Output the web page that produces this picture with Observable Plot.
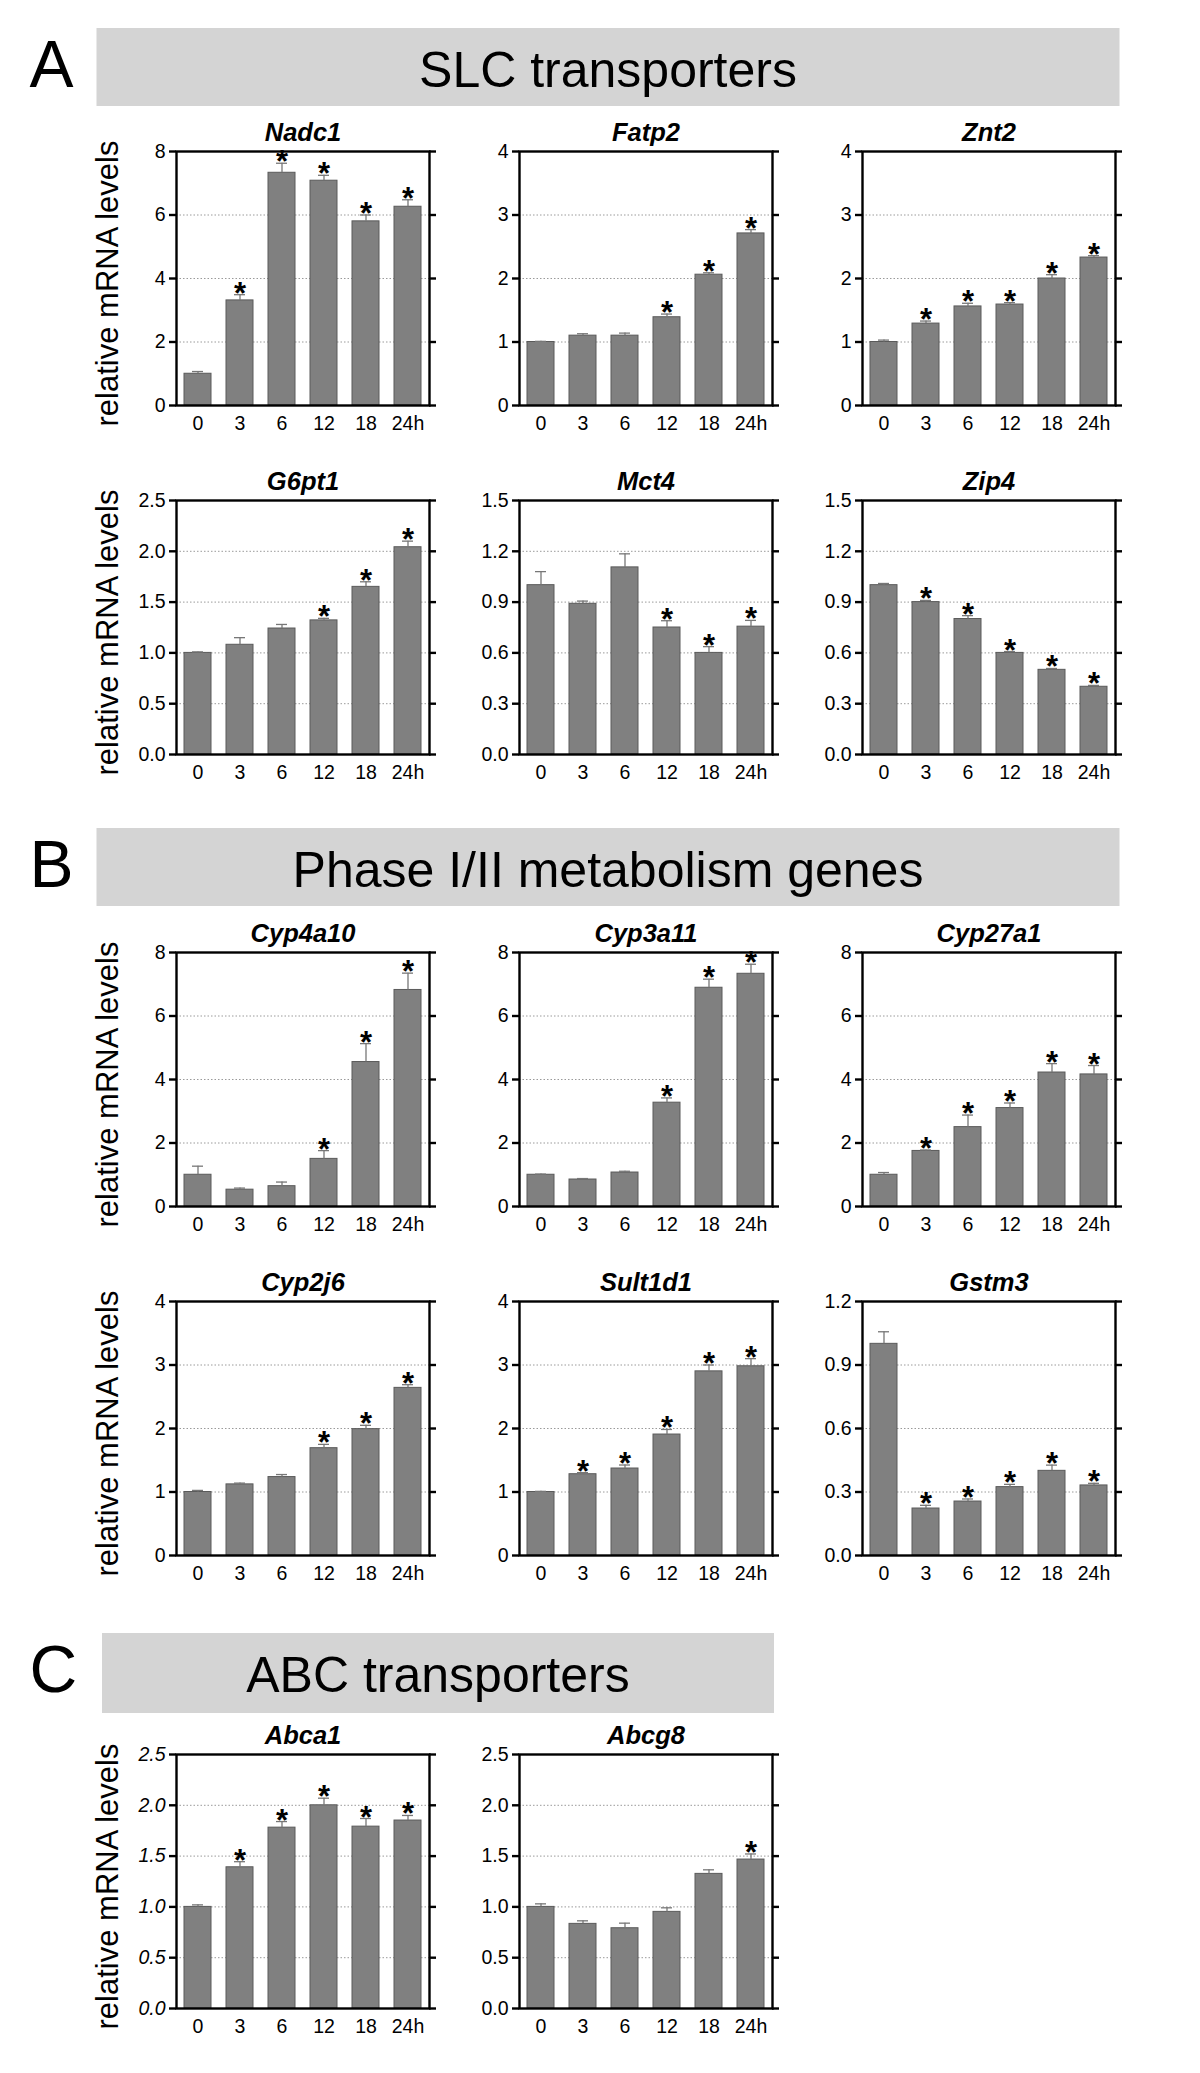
<!DOCTYPE html>
<html><head><meta charset="utf-8">
<script src="https://cdn.jsdelivr.net/npm/d3@7"></script>
<script src="https://cdn.jsdelivr.net/npm/@observablehq/plot@0.6"></script>
<style>
html,body{margin:0;padding:0;background:#fff;}
#page{position:relative;width:1200px;height:2073px;overflow:hidden;font-family:"Liberation Sans",Arial,sans-serif;}
.panel{position:absolute;}
.panel svg{overflow:visible;}
.panel svg g[aria-label*="axis"]{font-size:19.5px;}
.panel svg g[aria-label*="axis"] text{font-size:19.5px !important;}
.italic-y g[aria-label^="y-axis"] text{font-style:italic;}
</style></head><body><div id="page"></div><script>
// ---------------- data ----------------
const times = ["0", "3", "6", "12", "18", "24h"];
const sectionLetters = ["A", "B", "C"];
const sectionTitles = ["SLC transporters", "Phase I/II metabolism genes", "ABC transporters"];
const genes = ["Nadc1", "Fatp2", "Znt2", "G6pt1", "Mct4", "Zip4",
  "Cyp4a10", "Cyp3a11", "Cyp27a1", "Cyp2j6", "Sult1d1", "Gstm3", "Abca1", "Abcg8"];
const meanValues = [
  [1.0, 3.31, 7.33, 7.08, 5.80, 6.26],   // Nadc1
  [1.0, 1.10, 1.10, 1.39, 2.06, 2.71],   // Fatp2
  [1.0, 1.29, 1.56, 1.59, 2.00, 2.33],   // Znt2
  [1.0, 1.08, 1.24, 1.32, 1.65, 2.04],   // G6pt1
  [1.0, 0.89, 1.105, 0.75, 0.60, 0.755], // Mct4
  [1.0, 0.90, 0.80, 0.60, 0.50, 0.40],   // Zip4
  [1.0, 0.53, 0.64, 1.50, 4.55, 6.82],   // Cyp4a10
  [1.0, 0.85, 1.07, 3.27, 6.89, 7.33],   // Cyp3a11
  [1.0, 1.75, 2.50, 3.10, 4.22, 4.16],   // Cyp27a1
  [1.0, 1.12, 1.235, 1.69, 1.99, 2.64],  // Cyp2j6
  [1.0, 1.28, 1.37, 1.905, 2.90, 2.98],  // Sult1d1
  [1.0, 0.222, 0.255, 0.323, 0.40, 0.331], // Gstm3
  [1.0, 1.39, 1.78, 2.0, 1.79, 1.85],    // Abca1
  [1.0, 0.833, 0.79, 0.951, 1.325, 1.466] // Abcg8
];
const semValues = [
  [0.07, 0.18, 0.30, 0.17, 0.20, 0.22],
  [0.01, 0.03, 0.04, 0.05, 0.03, 0.06],
  [0.03, 0.04, 0.05, 0.03, 0.06, 0.03],
  [0.01, 0.07, 0.04, 0.02, 0.05, 0.06],
  [0.08, 0.016, 0.08, 0.04, 0.037, 0.037],
  [0.01, 0.01, 0.02, 0.008, 0.008, 0.008],
  [0.27, 0.05, 0.13, 0.26, 0.58, 0.53],
  [0.02, 0.03, 0.04, 0.15, 0.27, 0.30],
  [0.07, 0.03, 0.38, 0.16, 0.28, 0.28],
  [0.025, 0.02, 0.04, 0.06, 0.06, 0.05],
  [0.01, 0.025, 0.055, 0.08, 0.10, 0.12],
  [0.057, 0.015, 0.012, 0.013, 0.027, 0.01],
  [0.02, 0.055, 0.06, 0.07, 0.08, 0.05],
  [0.03, 0.03, 0.05, 0.04, 0.04, 0.055]
];
const significant = [
  [0,1,1,1,1,1], [0,0,0,1,1,1], [0,1,1,1,1,1],
  [0,0,0,1,1,1], [0,0,0,1,1,1], [0,1,1,1,1,1],
  [0,0,0,1,1,1], [0,0,0,1,1,1], [0,1,1,1,1,1],
  [0,0,0,1,1,1], [0,1,1,1,1,1], [0,1,1,1,1,1],
  [0,1,1,1,1,1], [0,0,0,0,0,1]
];
const yMax = [8, 4, 4, 2.5, 1.5, 1.5, 8, 8, 8, 4, 4, 1.2, 2.5, 2.5];
const yTickValues = [
  [0,2,4,6,8], [0,1,2,3,4], [0,1,2,3,4],
  [0,0.5,1,1.5,2,2.5], [0,0.3,0.6,0.9,1.2,1.5], [0,0.3,0.6,0.9,1.2,1.5],
  [0,2,4,6,8], [0,2,4,6,8], [0,2,4,6,8],
  [0,1,2,3,4], [0,1,2,3,4], [0,0.3,0.6,0.9,1.2],
  [0,0.5,1,1.5,2,2.5], [0,0.5,1,1.5,2,2.5]
];
const yTickDecimals = [0,0,0,1,1,1,0,0,0,0,0,1,1,1];
const yAxisLabel = "relative mRNA levels";

// ---------------- layout ----------------
const FONT = '"Liberation Sans", Arial, Helvetica, sans-serif';
const colLeft = [176, 519, 862];
const rowTop = [151, 500, 952, 1301, 1754];
const FW = 253, FH = 254;
const ML = 100, MR = 20, MT = 40, MB = 40;
const panelCol = [0,1,2,0,1,2,0,1,2,0,1,2,0,1];
const panelRow = [0,0,0,1,1,1,2,2,2,3,3,3,4,4];
const headerBoxes = [
  {x0: 96.5, x1: 1119.5, y0: 28, y1: 106},
  {x0: 96.5, x1: 1119.5, y0: 828, y1: 906},
  {x0: 102, x1: 774, y0: 1633, y1: 1713}
];

const page = document.getElementById("page");

// section headers
const hsvg = d3.select(page).append("svg")
  .attr("width", 1200).attr("height", 2073)
  .style("position", "absolute").style("left", 0).style("top", 0)
  .style("font-family", FONT);
headerBoxes.forEach((b, k) => {
  hsvg.append("rect").attr("x", b.x0).attr("y", b.y0)
    .attr("width", b.x1 - b.x0).attr("height", b.y1 - b.y0).attr("fill", "#d4d4d4");
  hsvg.append("text").attr("x", 29.5).attr("y", b.y0 + 59)
    .attr("font-size", 66).attr("fill", "#000").text(sectionLetters[k]);
  hsvg.append("text").attr("x", (b.x0 + b.x1) / 2).attr("y", b.y0 + 59)
    .attr("text-anchor", "middle").attr("font-size", 50).attr("fill", "#000")
    .text(sectionTitles[k]);
});

function makePanel(i) {
  const rows = times.map((t, j) => ({t, v: meanValues[i][j], e: semValues[i][j], s: significant[i][j]}));
  const max = yMax[i];
  const ticks = yTickValues[i];
  const fmt = d3.format(yTickDecimals[i] ? ".1f" : "d");
  const col = panelCol[i];
  const marks = [
    Plot.ruleY(ticks.filter(v => v > 0 && v < max), {stroke: "#9a9a9a", strokeWidth: 1, strokeDasharray: "1.5,2"}),
    Plot.barY(rows, {x: "t", y: "v", fill: "#808080", stroke: "#5a5a5a", strokeWidth: 1}),
    Plot.ruleX(rows, {x: "t", y1: "v", y2: d => d.v + d.e, stroke: "#777", strokeWidth: 1.3}),
    Plot.tickY(rows, {x: "t", y: d => d.v + d.e, stroke: "#777", strokeWidth: 1.3, insetLeft: 8, insetRight: 8}),
    Plot.text(rows.filter(d => d.s), {x: "t", y: d => d.v + d.e, text: () => "*", fontSize: 31,
      fontWeight: "bold", lineAnchor: "bottom", dy: 9, fill: "#000"}),
    Plot.frame({stroke: "#000", strokeWidth: 2.4}),
    Plot.ruleY(ticks, {stroke: "#000", strokeWidth: 2.4, insetLeft: -7, insetRight: FW}),
    Plot.ruleY(ticks, {stroke: "#000", strokeWidth: 2.4, insetLeft: FW, insetRight: -7}),
    Plot.text([genes[i]], {text: d => d, frameAnchor: "top", dy: -11, lineAnchor: "bottom",
      fontWeight: "bold", fontStyle: "italic", fontSize: 25.5, fill: "#000"})
  ];
  if (col === 0) {
    marks.push(Plot.text([yAxisLabel], {text: d => d, frameAnchor: "left", textAnchor: "middle",
      rotate: -90, dx: -59, dy: 5, lineAnchor: "bottom", fontSize: 31, fill: "#000"}));
  }
  const svg = Plot.plot({
    width: ML + FW + MR, height: MT + FH + MB,
    marginLeft: ML, marginRight: MR, marginTop: MT, marginBottom: MB,
    style: {fontFamily: FONT, fontSize: "19.5px", color: "#000", background: "none", overflow: "visible"},
    x: {domain: times, paddingInner: 0.35, paddingOuter: 0.175, tickSize: 0, tickPadding: 11, label: null},
    y: {domain: [0, max], ticks: ticks, tickFormat: fmt, tickSize: 0, tickPadding: 11, label: null},
    marks
  });
  if (i === 12) svg.classList.add("italic-y");
  const div = document.createElement("div");
  div.className = "panel";
  div.style.left = (colLeft[col] - ML) + "px";
  div.style.top = (rowTop[panelRow[i]] - MT) + "px";
  div.appendChild(svg);
  page.appendChild(div);
}
genes.forEach((g, i) => makePanel(i));
</script></body></html>
